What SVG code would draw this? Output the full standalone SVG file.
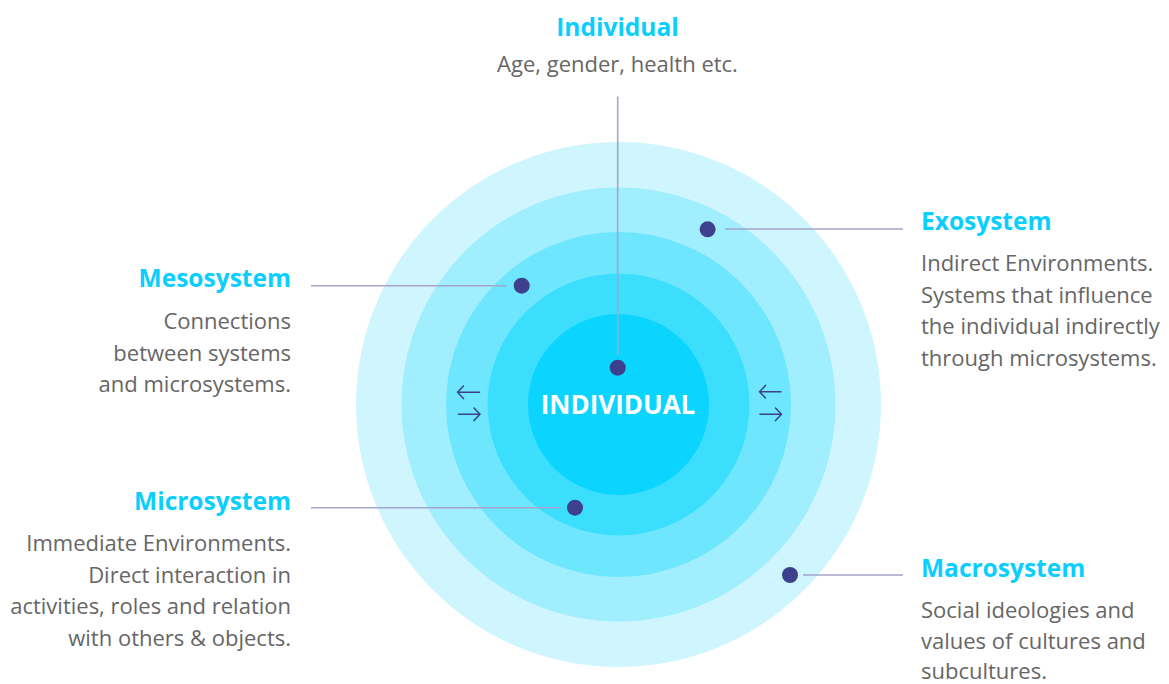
<svg xmlns="http://www.w3.org/2000/svg" width="1169" height="684" viewBox="0 0 1169 684">
<style>
.title{font-family:"Open Sans","Liberation Sans",sans-serif;font-weight:700;font-size:24.5px;fill:#0ACFFE}
.body{font-family:"Open Sans","Liberation Sans",sans-serif;font-size:22px;fill:#666666}
.conn{stroke:#A3A5CC;stroke-width:1.6;fill:none}
.dot{fill:#3D418D}
.arr{stroke:#3D418D;stroke-width:1.5;fill:none;stroke-linecap:round;stroke-linejoin:round}
.lbl{font-family:"Open Sans","Liberation Sans",sans-serif;font-weight:700;font-size:26px;fill:#FFFFFF}
</style>
<rect width="1169" height="684" fill="#FFFFFF"/>
<g id="rings">
<circle id="macro-ring" cx="618.5" cy="404.5" r="262.5" fill="#CFF6FE"/>
<circle id="exo-ring" cx="618.5" cy="404.5" r="217" fill="#A0EEFE"/>
<circle id="meso-ring" cx="618.5" cy="404.5" r="172.5" fill="#6DE6FE"/>
<circle id="micro-ring" cx="618.5" cy="404.5" r="131" fill="#3CDEFE"/>
<circle id="individual-core" cx="618.5" cy="404.5" r="90.5" fill="#0BD5FE"/>
<text class="lbl" x="618" y="413.5" text-anchor="middle">INDIVIDUAL</text>
</g>
<g id="arrows">
<path class="arr" d="M479.5 392.3 H457.5 M463.5 386 L457.5 392.3 L463.5 398.6"/>
<path class="arr" d="M458.5 414.3 H480 M474 408 L480 414.3 L474 420.6"/>
<path class="arr" d="M781 391.7 H759.5 M765.5 385.4 L759.5 391.7 L765.5 398"/>
<path class="arr" d="M760 414.3 H781.5 M775.5 408 L781.5 414.3 L775.5 420.6"/>
</g>
<g id="connectors">
<line class="conn" x1="617.7" y1="96.5" x2="617.7" y2="355"/>
<line class="conn" x1="725" y1="229" x2="903" y2="229"/>
<line class="conn" x1="311" y1="285.7" x2="506.7" y2="285.7"/>
<line class="conn" x1="311" y1="507.7" x2="560.7" y2="507.7"/>
<line class="conn" x1="803" y1="575" x2="903" y2="575"/>
</g>
<g id="individual">
<circle class="dot" cx="617.7" cy="367.7" r="8"/>
<text class="title" x="617.5" y="36" text-anchor="middle">Individual</text>
<text class="body" x="617.5" y="72" text-anchor="middle">Age, gender, health etc.</text>
</g>
<g id="exosystem">
<circle class="dot" cx="707.6" cy="229.3" r="8"/>
<text class="title" x="921" y="230">Exosystem</text>
<text class="body" x="921" y="271">Indirect Environments.</text>
<text class="body" x="921" y="302.5">Systems that influence</text>
<text class="body" x="921" y="334">the individual indirectly</text>
<text class="body" x="921" y="365.5">through microsystems.</text>
</g>
<g id="mesosystem">
<circle class="dot" cx="521.7" cy="285.7" r="8"/>
<text class="title" x="291" y="287.3" text-anchor="end">Mesosystem</text>
<text class="body" x="291" y="329" text-anchor="end">Connections</text>
<text class="body" x="291" y="360.5" text-anchor="end">between systems</text>
<text class="body" x="291" y="392" text-anchor="end">and microsystems.</text>
</g>
<g id="microsystem">
<circle class="dot" cx="575" cy="507.7" r="8"/>
<text class="title" x="291" y="510" text-anchor="end">Microsystem</text>
<text class="body" x="291" y="551" text-anchor="end">Immediate Environments.</text>
<text class="body" x="291" y="582.5" text-anchor="end">Direct interaction in</text>
<text class="body" x="291" y="614" text-anchor="end">activities, roles and relation</text>
<text class="body" x="291" y="645.5" text-anchor="end">with others &amp; objects.</text>
</g>
<g id="macrosystem">
<circle class="dot" cx="790" cy="575" r="8"/>
<text class="title" x="921" y="576.7">Macrosystem</text>
<text class="body" x="921" y="618">Social ideologies and</text>
<text class="body" x="921" y="649">values of cultures and</text>
<text class="body" x="921" y="679">subcultures.</text>
</g>
</svg>
